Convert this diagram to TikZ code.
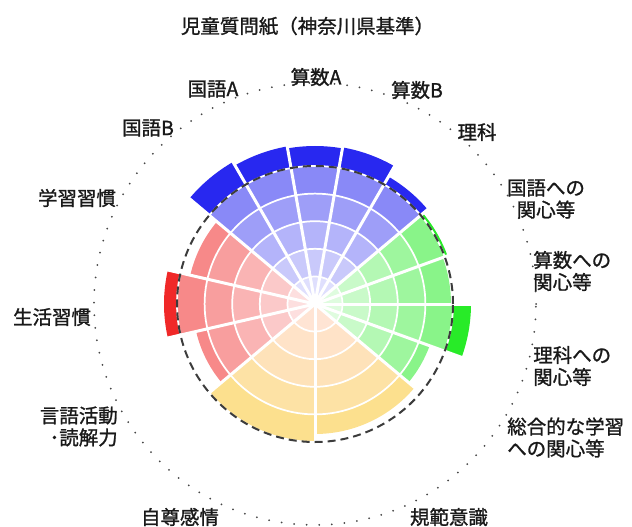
\documentclass[tikz,border=0pt]{standalone}
\usepackage{fontspec}
\setmainfont{Noto Sans CJK JP}[FakeBold=1.2]
\definecolor{bF}{RGB}{40,40,240}
\definecolor{gF}{RGB}{40,235,40}
\definecolor{rF}{RGB}{240,40,40}
\definecolor{yF}{RGB}{252,222,130}
\colorlet{b5}{bF!55!white}\colorlet{b4}{bF!45!white}\colorlet{b3}{bF!35!white}\colorlet{b2}{bF!25!white}\colorlet{b1}{bF!15!white}
\colorlet{g5}{gF!55!white}\colorlet{g4}{gF!45!white}\colorlet{g3}{gF!35!white}\colorlet{g2}{gF!25!white}\colorlet{g1}{gF!15!white}
\colorlet{r5}{rF!55!white}\colorlet{r4}{rF!45!white}\colorlet{r3}{rF!35!white}\colorlet{r2}{rF!25!white}\colorlet{r1}{rF!15!white}
\definecolor{y5}{RGB}{252,224,142}
\definecolor{y4}{RGB}{253,226,165}
\definecolor{y3}{RGB}{254,226,185}
\definecolor{y2}{RGB}{255,227,200}
\definecolor{y1}{RGB}{255,228,212}
\definecolor{dashgray}{RGB}{60,60,60}
\definecolor{dotgray}{RGB}{70,70,70}
\definecolor{txt}{RGB}{25,25,25}
\newcommand{\mysector}[4]{%
  \ifdim #3pt>138pt
    \fill[#4F] (C) -- ++(#1:#3) arc[start angle=#1,end angle=#2,radius=#3] -- cycle;
  \fi
  \foreach \k in {5,4,3,2,1}{%
    \pgfmathsetmacro\rr{min(\k*27.6,#3)}%
    \fill[#4\k] (C) -- ++(#1:\rr) arc[start angle=#1,end angle=#2,radius=\rr] -- cycle;
  }%
}
\tikzset{
  lbl/.style={inner sep=0pt, text=txt, font=\fontsize{14.6}{16.5}\selectfont},
  sepline/.style={white, line width=2.25pt},
  ringline/.style={white, line width=1.3pt},
  refcircle/.style={dashgray, line width=1.5pt, dash pattern=on 6pt off 3.75pt},
  outercircle/.style={dotgray, line width=1.5pt, line cap=round, dash pattern=on 0pt off 9.45pt}
}
\begin{document}
\begin{tikzpicture}[x=0.75pt,y=0.75pt]
\useasboundingbox (0,0) rectangle (632,526);
\coordinate (C) at (315,222);
% sectors: start angle, end angle, radius (px), colour group
\mysector{120}{140}{164}{b}
\mysector{100}{120}{160}{b}
\mysector{80}{100}{158}{b}
\mysector{60}{80}{159}{b}
\mysector{40}{60}{147}{b}
\mysector{20}{40}{141}{g}
\mysector{0}{20}{136}{g}
\mysector{-20}{0}{156}{g}
\mysector{-40}{-20}{122}{g}
\mysector{-90}{-40}{130}{y}
\mysector{-140}{-90}{138}{y}
\mysector{193}{220}{122}{r}
\mysector{167}{193}{151}{r}
\mysector{140}{167}{128}{r}
% rings
\foreach \k in {1,2,3,4,5} \draw[ringline] (C) circle[radius=\k*27.6];
% separators
\foreach \a in {140,120,100,80,60,40,20,0,-20,-40,-90,-140,167,193}
  \draw[sepline] (C) -- ++(\a:172);
% reference circles
\draw[refcircle] (C) circle[radius=138];
\draw[outercircle] (C) circle[radius=221];
% labels
\node[lbl] (title) at (307.5,500) {児童質問紙（神奈川県基準）};
\node[lbl] (sA) at (316,449) {算数A};
\node[lbl] (kA) at (213,437) {国語A};
\node[lbl] (sB) at (417,436) {算数B};
\node[lbl] (kB) at (148,398) {国語B};
\node[lbl] (ri) at (477,394) {理科};
\node[lbl] (gs) at (77,328) {学習習慣};
\node[lbl, align=center] (kk) at (546,327) {国語への\\関心等};
\node[lbl, align=left, anchor=west] (sk) at (533,255) {算数への\\関心等};
\node[lbl, align=left, anchor=west] (rk) at (533,160) {理科への\\関心等};
\node[lbl, align=left, anchor=west] (sg) at (507,88.5) {総合的な学習\\への関心等};
\node[lbl] (sk2) at (52,209) {生活習慣};
\node[lbl, align=right, anchor=east] (gg) at (118,99.5) {言語活動\\･読解力};
\node[lbl] (js) at (180,9) {自尊感情};
\node[lbl] (ki) at (449,9) {規範意識};
\end{tikzpicture}
\end{document}
